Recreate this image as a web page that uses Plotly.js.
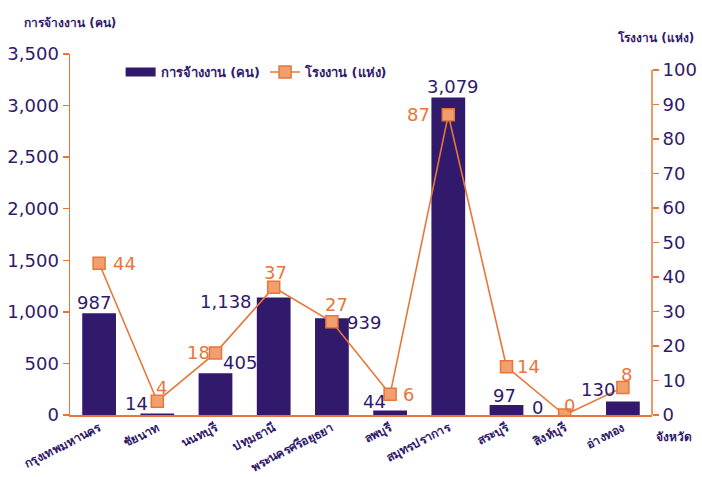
<!DOCTYPE html>
<html>
<head>
<meta charset="utf-8">
<script src="https://cdn.plot.ly/plotly-3.0.1.min.js"></script>
<style>html,body{margin:0;padding:0;background:#fff;}#chart{width:702px;height:477px;}</style>
</head>
<body>
<div id="chart"></div>
<script>
// ---- data ----
const provinces = ["กรุงเทพมหานคร","ชัยนาท","นนทบุรี","ปทุมธานี","พระนครศรีอยุธยา","ลพบุรี","สมุทรปราการ","สระบุรี","สิงห์บุรี","อ่างทอง"];
const employment = [987, 14, 405, 1138, 939, 44, 3079, 97, 0, 130];
const factories = [44, 4, 18, 37, 27, 6, 87, 14, 0, 8];
const leftTicks = [0, 500, 1000, 1500, 2000, 2500, 3000, 3500];
const rightTicks = [0, 10, 20, 30, 40, 50, 60, 70, 80, 90, 100];
const seriesNames = ["การจ้างงาน (คน)", "โรงงาน (แห่ง)"];
const leftTitle = "การจ้างงาน (คน)";
const rightTitle = "โรงงาน (แห่ง)";
const xTitle = "จังหวัด";

// ---- label offsets (style) ----
const barLabelShift = [[-5,11],[-21,10],[24,11],[-48,-4],[32,-4],[-16,9],[5,11],[-2,10],[-27,8],[-25,12]];
const lineLabelShift = [[25,0],[4,14],[-17,0],[2,15],[5,17],[18,0],[-30,0],[22,0],[5,10],[4,13]];

const purple = "#311A6B";
const orange = "#E8763A";
const font = "Tahoma, 'DejaVu Sans', 'Noto Sans', sans-serif";

const fmt = v => v.toLocaleString("en-US");

const traces = [
  {
    type: "bar", x: provinces, y: employment, name: seriesNames[0],
    marker: {color: purple}, width: 0.58, yaxis: "y", showlegend: false
  },
  {
    // legend swatch for the bar series (wide rectangle like the reference)
    type: "scatter", mode: "lines", x: [null], y: [null], name: seriesNames[0],
    line: {color: purple, width: 9}, yaxis: "y", hoverinfo: "skip"
  },
  {
    type: "scatter", mode: "lines+markers", x: provinces, y: factories, name: seriesNames[1],
    yaxis: "y2", line: {color: orange, width: 1.6},
    marker: {symbol: "square", size: 12, color: "#F0A06E", line: {color: orange, width: 1.5}}
  }
];

const annotations = [];
provinces.forEach((p, i) => {
  annotations.push({x: p, y: employment[i], xref: "x", yref: "y", text: fmt(employment[i]),
    showarrow: false, xanchor: "center", yanchor: "middle",
    xshift: barLabelShift[i][0], yshift: barLabelShift[i][1],
    font: {family: font, size: 18, color: purple}});
  annotations.push({x: p, y: factories[i], xref: "x", yref: "y2", text: String(factories[i]),
    showarrow: false, xanchor: "center", yanchor: "middle",
    xshift: lineLabelShift[i][0], yshift: lineLabelShift[i][1],
    font: {family: font, size: 18, color: orange}});
});
annotations.push({xref: "paper", yref: "paper", x: -0.083, y: 1.0, yshift: 31, text: "<b>" + leftTitle + "</b>",
  showarrow: false, xanchor: "left", yanchor: "middle", font: {family: font, size: 12, color: purple}});
annotations.push({xref: "paper", yref: "paper", x: 1.075, y: 1.0, yshift: 17, text: "<b>" + rightTitle + "</b>",
  showarrow: false, xanchor: "right", yanchor: "middle", font: {family: font, size: 12, color: purple}});
annotations.push({xref: "paper", yref: "paper", x: 1.0, y: 0, yshift: -22, xshift: 2, text: "<b>" + xTitle + "</b>",
  showarrow: false, xanchor: "left", yanchor: "middle", font: {family: font, size: 12, color: purple}});

const rightMax = 100 * 361 / 345;

const layout = {
  width: 702, height: 477,
  margin: {l: 70, r: 50, t: 54, b: 62},
  paper_bgcolor: "#fff", plot_bgcolor: "#fff",
  showlegend: true,
  legend: {orientation: "h", x: 0.087, y: 0.95, xanchor: "left", yanchor: "middle",
    font: {family: font, size: 13, color: purple, weight: "bold"}, bgcolor: "rgba(0,0,0,0)",
    traceorder: "normal"},
  xaxis: {
    type: "category", range: [-0.5, 9.5], tickangle: -27, showline: true, linecolor: orange, linewidth: 1.5,
    ticks: "", showgrid: false, zeroline: false, automargin: false,
    tickfont: {family: font, size: 12, color: purple, weight: "bold"}
  },
  yaxis: {
    range: [0, 3500], tickvals: leftTicks, ticktext: leftTicks.map(fmt),
    showline: true, linecolor: orange, linewidth: 1.5, ticks: "outside", tickcolor: orange, ticklen: 6, tickwidth: 1.5,
    showgrid: false, zeroline: false, tickfont: {family: font, size: 18, color: purple}
  },
  yaxis2: {
    range: [0, rightMax], overlaying: "y", side: "right", tickvals: rightTicks,
    showline: false, ticks: "outside", tickcolor: orange, ticklen: 6, tickwidth: 1.5,
    showgrid: false, zeroline: false, tickfont: {family: font, size: 18, color: purple}
  },
  shapes: [
    {type: "line", xref: "paper", yref: "y2", x0: 1, x1: 1, y0: 0, y1: 100, line: {color: orange, width: 1.5}}
  ],
  annotations: annotations
};

Plotly.newPlot("chart", traces, layout, {displayModeBar: false, staticPlot: true});
</script>
</body>
</html>
